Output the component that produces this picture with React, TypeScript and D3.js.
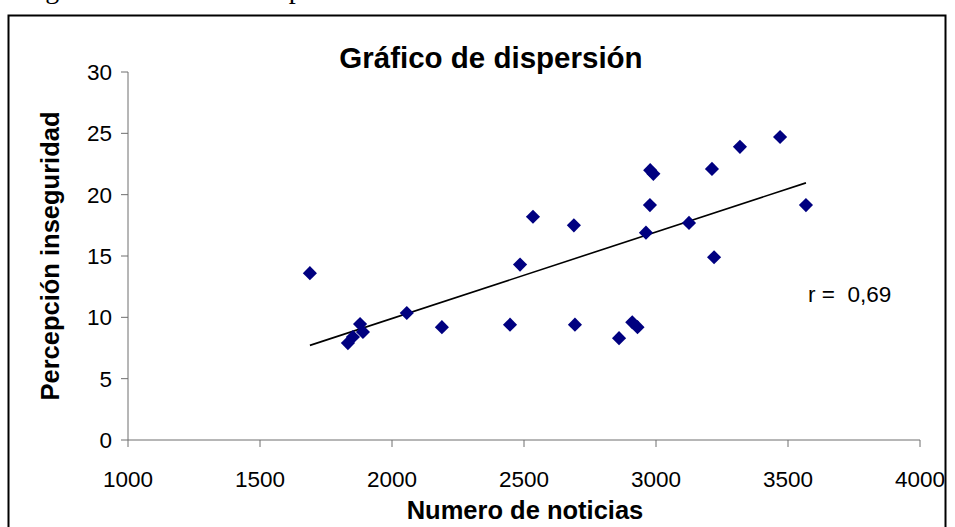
import React from 'react';
import * as d3 from 'd3';

// Numero de noticias (x) y percepción de inseguridad (y)
const noticias = [
  1689, 1833, 1852, 1879, 1890, 2056, 2189, 2447, 2485, 2534, 2689, 2693, 2860,
  2910, 2930, 2962, 2977, 2978, 2990, 3125, 3212, 3220, 3318, 3470, 3568,
];
const percepcion = [
  13.6, 7.9, 8.4, 9.45, 8.8, 10.35, 9.2, 9.4, 14.3, 18.2, 17.5, 9.4, 8.3,
  9.6, 9.2, 16.9, 19.15, 22.0, 21.7, 17.7, 22.1, 14.9, 23.9, 24.7, 19.15,
];
const xTicks = [1000, 1500, 2000, 2500, 3000, 3500, 4000];
const yTicks = [0, 5, 10, 15, 20, 25, 30];
const rLabel = 'r =  0,69';

const W = 955;
const H = 527;
const plot = { left: 128, right: 920, top: 72, bottom: 440 };
const font = '"Liberation Sans", Arial, sans-serif';
const axisColor = '#6e6e6e';

export default function App() {
  const x = d3.scaleLinear().domain([1000, 4000]).range([plot.left, plot.right]);
  const y = d3.scaleLinear().domain([0, 30]).range([plot.bottom, plot.top]);

  // recta de mínimos cuadrados
  const mx = d3.mean(noticias) || 0;
  const my = d3.mean(percepcion) || 0;
  let sxy = 0;
  let sxx = 0;
  noticias.forEach((v, i) => {
    sxy += (v - mx) * (percepcion[i] - my);
    sxx += (v - mx) * (v - mx);
  });
  const slope = sxy / sxx;
  const icpt = my - slope * mx;
  const [x0, x1] = d3.extent(noticias) as [number, number];
  const trend = d3.line<number>().x(d => x(d)).y(d => y(icpt + slope * d))([x0, x1]) || '';

  const diamond = d3.symbol(d3.symbolSquare, 100)() || '';

  return (
    <svg width={W} height={H} style={{ position: 'absolute', left: 0, top: 0, background: '#fff' }}>
      {/* pie de figura del documento, cortado arriba */}
      <text x={22} y={-2} fontFamily='"Liberation Serif", "Times New Roman", serif' fontSize={28}>
        Figura 1. Gráfico de dispersión
      </text>
      <rect x={8.5} y={15.5} width={937} height={560} fill="none" stroke="#000" strokeWidth={2} />

      <text x={491} y={68} textAnchor="middle" fontFamily={font} fontWeight="bold" fontSize={29.5}>
        Gráfico de dispersión
      </text>

      {/* eje y */}
      <line x1={plot.left} x2={plot.left} y1={plot.top} y2={plot.bottom} stroke={axisColor} />
      {yTicks.map(t => (
        <g key={t}>
          <line x1={plot.left - 7} x2={plot.left} y1={y(t)} y2={y(t)} stroke={axisColor} />
          <text x={plot.left - 16} y={y(t)} dy="0.36em" textAnchor="end" fontFamily={font} fontSize={22.5}>
            {t}
          </text>
        </g>
      ))}

      {/* eje x */}
      <line x1={plot.left} x2={plot.right} y1={plot.bottom} y2={plot.bottom} stroke={axisColor} />
      {xTicks.map(t => (
        <g key={t}>
          <line x1={x(t)} x2={x(t)} y1={plot.bottom} y2={plot.bottom + 7} stroke={axisColor} />
          <text x={x(t)} y={487} textAnchor="middle" fontFamily={font} fontSize={22.5}>
            {t}
          </text>
        </g>
      ))}

      <text
        transform={`translate(59,${(plot.top + plot.bottom) / 2}) rotate(-90)`}
        textAnchor="middle"
        fontFamily={font}
        fontWeight="bold"
        fontSize={25.5}
      >
        Percepción inseguridad
      </text>
      <text x={525} y={519} textAnchor="middle" fontFamily={font} fontWeight="bold" fontSize={25.5}>
        Numero de noticias
      </text>

      <path d={trend} fill="none" stroke="#000" strokeWidth={1.6} />

      {noticias.map((v, i) => (
        <path
          key={i}
          d={diamond}
          transform={`translate(${x(v)},${y(percepcion[i])}) rotate(45)`}
          fill="#000080"
        />
      ))}

      <text x={808} y={302} fontFamily={font} fontSize={22.5} style={{ whiteSpace: 'pre' }}>
        {rLabel}
      </text>
    </svg>
  );
}
